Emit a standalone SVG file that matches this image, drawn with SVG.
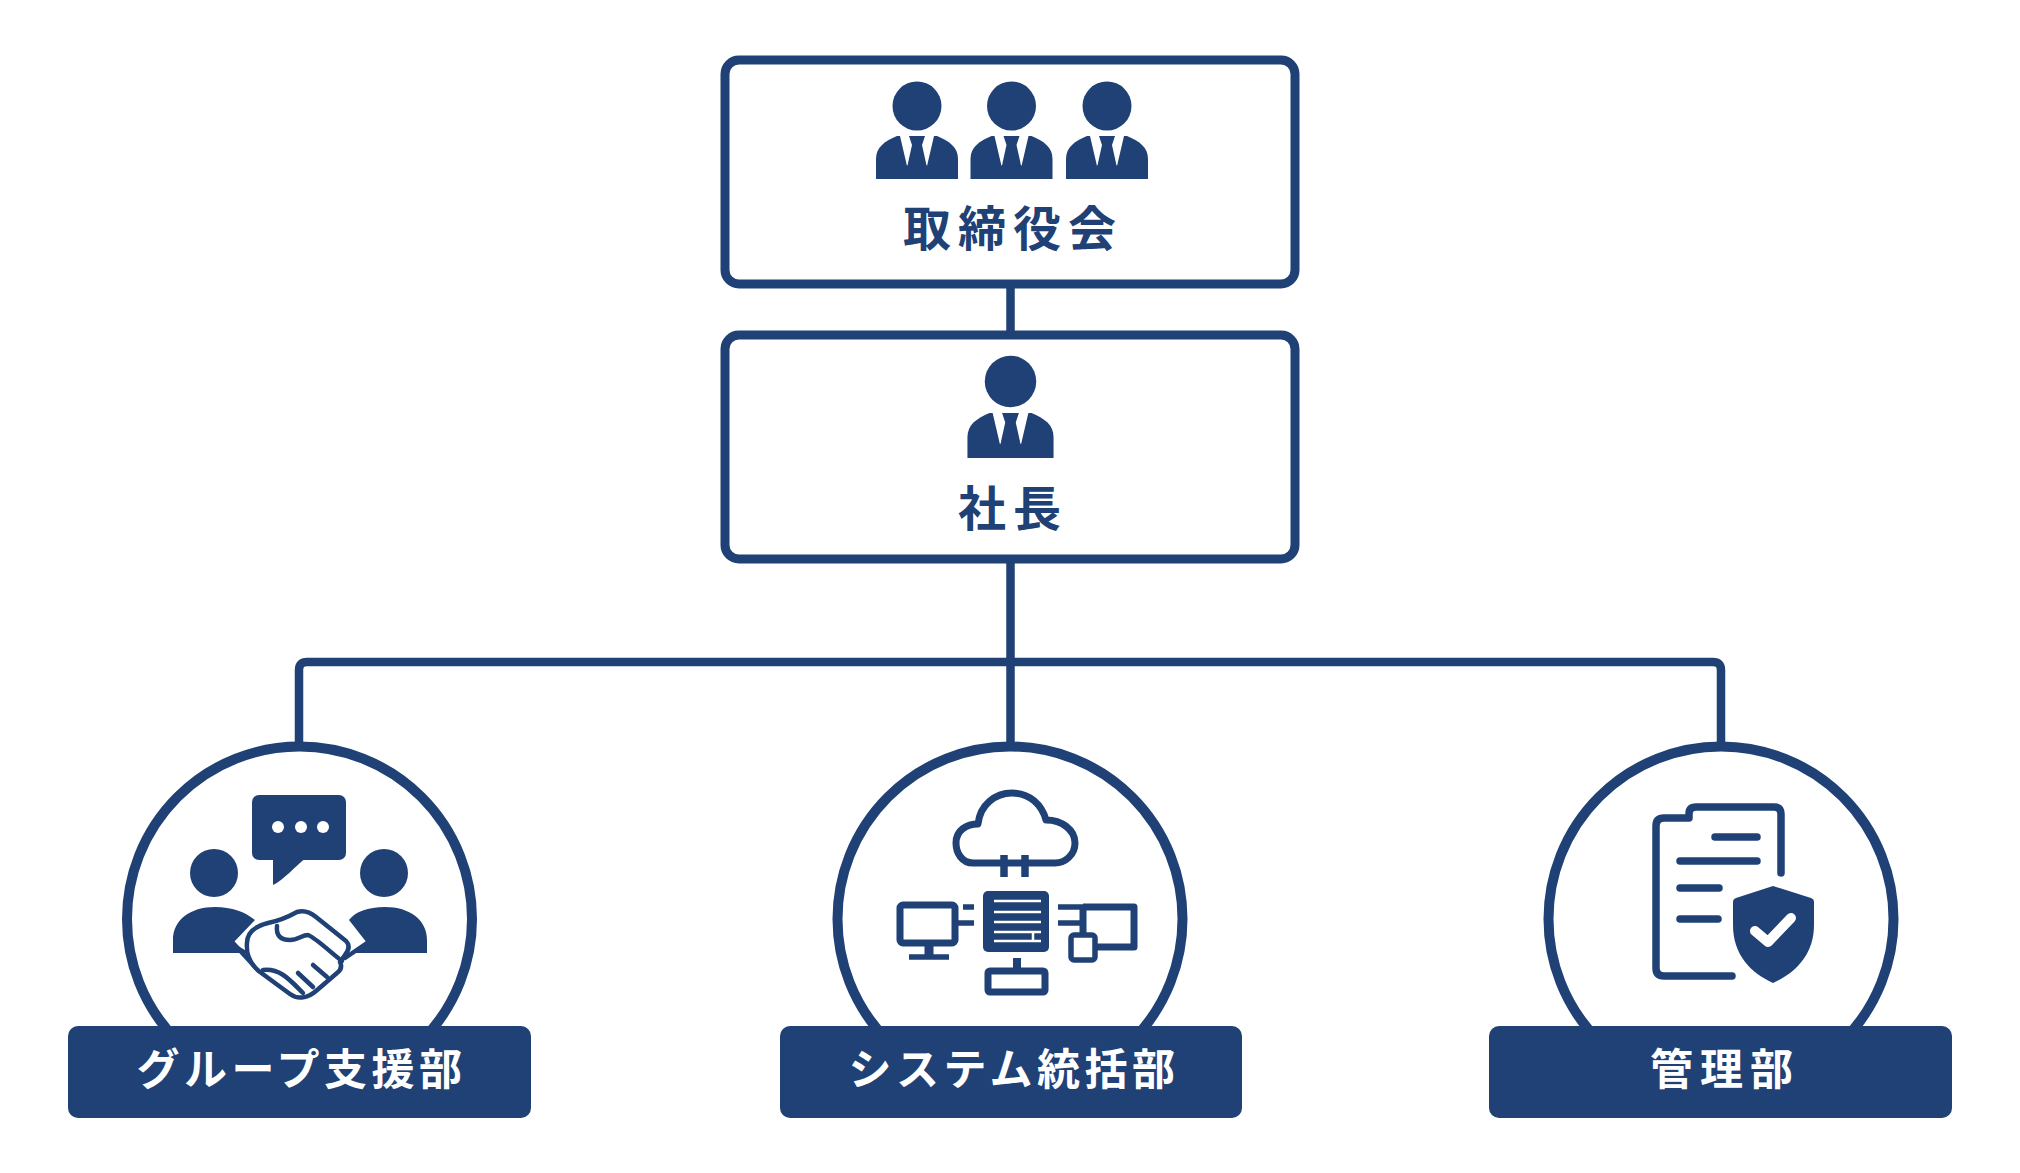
<svg xmlns="http://www.w3.org/2000/svg" width="2020" height="1173" viewBox="0 0 2020 1173">
<style>
.ln{fill:none;stroke:#1f4175;stroke-linejoin:round;stroke-width:8.5}
.box{fill:#fff;stroke:#1f4175;stroke-width:9}
.ring{fill:#fff;stroke:#1f4175;stroke-width:10}
.tag{fill:#1f4175}
.d{fill:#1f4175}
.w{fill:#fff}
.t{font-family:"Noto Sans CJK JP","Noto Sans CJK SC",sans-serif;font-weight:700;text-anchor:middle}
.h{font-size:48px;letter-spacing:7px;fill:#1f4175}
.l{font-size:43px;letter-spacing:4.5px;fill:#fff;font-weight:700}
.s3{stroke-width:4.5;stroke:#1f4175;fill:none;stroke-linecap:round;stroke-linejoin:round}
.s5{stroke-width:5.5;stroke:#1f4175;fill:none}
.s6{stroke-width:7;stroke:#1f4175;fill:none;stroke-linejoin:round}
.s7{stroke-width:7.5;stroke:#1f4175;fill:none;stroke-linecap:round;stroke-linejoin:round}
</style>
<defs>
<g id="person">
<circle cx="0" cy="-31" r="24.5" class="d"/>
<path class="d" d="M-41 42V22C-41 10-32 4-20-1H20C32 4 41 10 41 22V42Z"/>
<path class="w" d="M-17-1H17L10 29L5 18H-5L-10 29Z"/>
<path class="d" d="M-8-1H8L5 8L9 26L0 36L-9 26L-5 8Z"/>
</g>
</defs>
<rect width="2020" height="1173" fill="#fff"/>
<g id="connectors">
<path class="ln" d="M1010.500 285V332"/>
<path class="ln" d="M1010.500 560V745"/>
<path class="ln" d="M299 745V670Q299 662 307 662H1713Q1721 662 1721 670V745"/>
</g>
<g id="board">
<rect class="box" x="725" y="60" width="570" height="224" rx="14"/>
<use href="#person" x="917" y="137"/>
<use href="#person" x="1011.500" y="137"/>
<use href="#person" x="1107" y="137"/>
<text class="t h" x="1013" y="246">取締役会</text>
</g>
<g id="president">
<rect class="box" x="725" y="335" width="570" height="224" rx="14"/>
<use href="#person" transform="translate(1010.500 414) scale(1.05)"/>
<text class="t h" x="1013" y="526">社長</text>
</g>
<g id="group-support">
<circle class="ring" cx="299.500" cy="919" r="172.500"/>
<rect class="d" x="252" y="795" width="94" height="65" rx="7"/>
<path class="d" d="M273 855V885C284 880 295 866 306 858Z"/>
<circle class="w" cx="278" cy="827" r="6"/><circle class="w" cx="301" cy="827" r="6"/><circle class="w" cx="323" cy="827" r="6"/>
<circle class="d" cx="214" cy="873" r="24"/><circle class="d" cx="384" cy="873" r="24"/>
<path class="d" d="M173 953V940C173 920 190 907 215 907C232 907 245 912 255 920L233 943L250 953Z"/>
<path class="d" d="M427 953V940C427 920 410 907 385 907C368 907 355 912 349 920L367 943L350 953Z"/>
<path class="s3" d="M233 943L258 970"/>
<path class="s3" d="M367 943L345 958"/>
<path class="w" d="M247 943C247 932 256 926 268 923C278 921 288 917 297 912C303 910 310 912 316 917L346 941C350 945 349 950 345 955L340 962C342 966 341 970 337 973L316 991C308 998 298 1000 290 994L260 972C250 964 246 953 247 943Z"/>
<path class="s3" d="M247 943C247 932 256 926 268 923C278 921 288 917 297 912C303 910 310 912 316 917L346 941C350 945 349 950 345 955L340 962C342 966 341 970 337 973L316 991C308 998 298 1000 290 994L260 972C250 964 246 953 247 943Z"/>
<path class="s3" d="M277 926C276 935 280 940 290 940C298 940 302 935 308 935C316 938 330 952 342 961M313 965L327 977M298 973L313 987M263 970C280 968 290 980 303 993"/>
</g>
<g id="system">
<circle class="ring" cx="1010" cy="919" r="172.500"/>
<path class="s6" d="M973 863C962 863 956 853 956 843C956 830 967 824 978 824C980 805 995 793 1012 793C1030 793 1042 805 1046 820C1062 820 1075 830 1075 843C1075 855 1065 863 1055 863Z"/>
<path class="s7" style="stroke-linecap:butt" d="M1004 855V877M1025 855V877"/>
<rect class="d" x="983" y="891" width="66" height="61" rx="5"/>
<path stroke="#fff" stroke-width="2.500" d="M994 901H1041M994 912H1041M994 922H1041M994 932H1041M994 941H1041M1033 933V942"/>
<rect class="s6" x="900" y="905" width="55" height="38" rx="3"/>
<path class="s6" style="stroke-width:9" d="M929 945V956"/>
<path class="s5" d="M909 957H949"/>
<path class="s5" d="M963 907H974M958 923H974"/>
<path class="s5" d="M1058 907H1083M1058 923H1080"/>
<path class="s6" d="M1083 907H1134V947H1095M1083 907V935"/>
<rect class="s5" style="fill:#fff" x="1071" y="935" width="24" height="25" rx="3"/>
<path class="s6" style="stroke-width:8" d="M1017 958V968"/>
<rect class="s6" x="988" y="971" width="57" height="21" rx="2"/>
</g>
<g id="admin">
<circle class="ring" cx="1721" cy="919" r="172.500"/>
<path class="s7" d="M1781 873V814Q1781 807 1774 807H1696Q1689 807 1689 814V818H1664Q1656 818 1656 826V968Q1656 976 1664 976H1732"/>
<path class="s7" d="M1715 837H1757M1680 861H1757M1680 888H1719M1680 919H1718"/>
<path class="d" d="M1773 886L1811 898Q1814 899 1814 902V925C1814 955 1795 973 1773 983C1751 973 1733 955 1733 925V902Q1733 899 1736 898Z"/>
<path fill="none" stroke="#fff" stroke-width="10" stroke-linecap="round" stroke-linejoin="round" d="M1755 931L1768 942L1791 918"/>
</g>
<g id="label-group-support"><rect class="tag" x="68" y="1026" width="463" height="92" rx="10"/><text class="t l" x="301.500" y="1085">グループ支援部</text></g>
<g id="label-system"><rect class="tag" x="780" y="1026" width="462" height="92" rx="10"/><text class="t l" x="1014" y="1085">システム統括部</text></g>
<g id="label-admin"><rect class="tag" x="1489" y="1026" width="463" height="92" rx="10"/><text class="t l" x="1725" y="1085" style="letter-spacing:7px">管理部</text></g>
</svg>
